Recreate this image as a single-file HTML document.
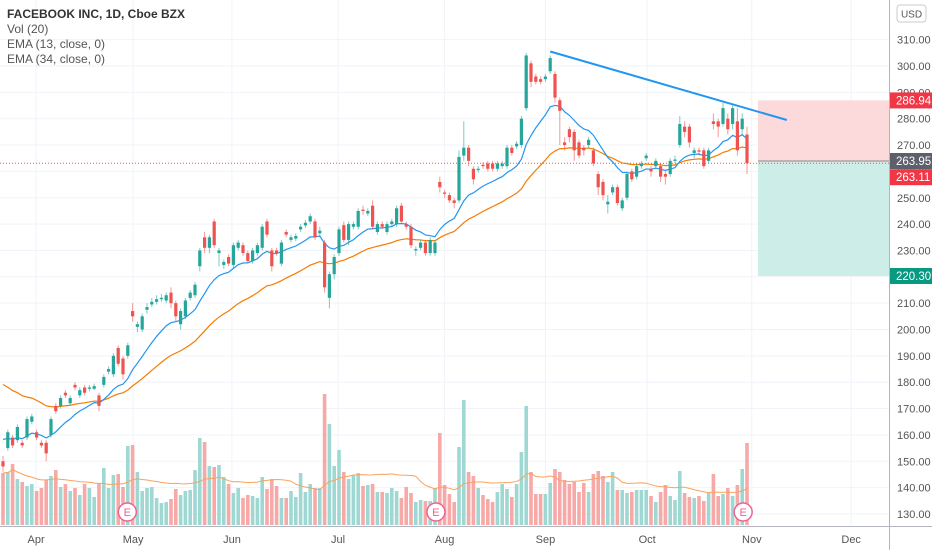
<!DOCTYPE html>
<html><head><meta charset="utf-8">
<style>
html,body{margin:0;padding:0;background:#fff;}
svg{display:block;font-family:"Liberation Sans",sans-serif;}
</style></head>
<body>
<svg id="chart" width="932" height="550" viewBox="0 0 932 550" xmlns="http://www.w3.org/2000/svg">
  <rect x="0" y="0" width="932" height="550" fill="#ffffff"/>
  <g id="grid"></g>
  <g id="boxes"></g>
  <g id="vol"></g>
  <g id="lines"></g>
  <g id="candles"></g>
  <g id="marks"></g>
  <g id="axis"></g>
  <g>
    <text x="7" y="18" font-size="12" font-weight="bold" fill="#333">FACEBOOK INC, 1D, Cboe BZX</text>
    <text x="7" y="33" font-size="12" fill="#555">Vol (20)</text>
    <text x="7" y="48" font-size="12" fill="#555">EMA (13, close, 0)</text>
    <text x="7" y="63" font-size="12" fill="#555">EMA (34, close, 0)</text>
  </g>
  <g>
    <rect x="897" y="5" width="29" height="17" rx="3" fill="#fff" stroke="#c8cbd3"/>
    <text x="911.5" y="17.5" font-size="10" fill="#555" text-anchor="middle">USD</text>
  </g>
</svg>
<script>
const opens = [150,155,159,158,157,159,165,161,157,157,
160,171,171,176,172,179,175,178,177.5,177.5,
175,179,184,183,193,189,190,207,201,200,
207.5,209.5,210.5,211.5,211,214,210,202,205,212,
213,224,235,231,241,229,224.5,227.5,224.5,231,
232,229,226,229,231,241,230,230,225,237,
234,234.5,238,239.5,241,241,236.5,233,212,221,
229,239.6,234,239,239,245.5,244,247,237,240,
237,240,240,247,240,239,230,231,233,229,
229,256,252,251,249,249,266,269,261,260.5,
262.5,263,263,261,262,262,269,269.5,270,284,
301,296,295,295,298,297,287,271,276,275,
271,269,270,268,259,256,247.5,252,254,246,
250,260,258,262,265,261,262,262,259,259,
264,270,277,277,267,268,268,264,279,279,
278,280,278,279,276,274];
const closes = [148,161,156,163,156,166,167,159,156,153,
166,169,174,175,174,178,177,176,178,178.5,
171,182,185,190,187,183,194,205,202,205,
208.5,210.5,211.5,212,213,210,205,207,211,214,
217,230,231,235,232,230,225.6,225,232,233,
229,226,230,232,239,236,224,229,233,236,
235,235.5,239,240.5,243,235,237.5,216,221,227.5,
238,234,240,240,245,245,245,239,240,239,
240,241,246,241,239,232,230.5,233,229,234,
233,254,251.5,249,248,265.5,269,264,257,261,
262,261,261,263,263,269,267,270.5,280,304,
294,294,294,296,303,288,283,270,273,268,
266,268,272,263,254,251,248.5,254,248,249,
259,257,262,263,266,260,264,258,258,264,
264.5,278,275,271,268,267.5,262,268,278,277,
284,276,284,268,280,263.11];
const highs = [152,162,160,164,158,167,168,162,158,158,
167,172,175,177,175,180,178,179,179,179.5,
176,183,186,191,194,190,195,210,203,206,
210,212,213,213.5,214,216,211,208,212,215,
218,231,237,236,242,231,226.5,228.5,233,234,
233,230,231,233,240,242,231,231,234,238,
236,236.5,240,241.5,244,242,239,234,222,228.5,
239,241,241,241,246,247,246,249,241,241,
241,242,247,248,241,240,231.5,234,234,235,
234,258,253,252,250,268,279,270,262,262,
263.5,264,264,264,264,270,270,271.5,281,305,
302,297,296,297,304,298,288,273,277,276,
272,270,273,269,260,257,251,255,255,250,
260,261,263,264,267,262,265,263,260,265,
266,281,279,278,269,269,269,269,282,280,
286,282,285,284,282,277];
const lows = [146,154,155,157,155,158,164,158,155,150,
159,168,170,174,171,177,174,175,176.5,177,
169,178,183,182,186,181,189,203,199,199,
206,208.5,209.5,210.5,210,208,203,200,204,211,
212,222,229,229,231,224,223,224,223,230,
228,225,225,228,230,235,222,228,224,235,
233,233.5,237,238.5,240,234,235,214,208,219,
228,233,232,238,238,243.5,243,238,236,238,
236,239,239,240,238,231,228,230,228,228,
228,252,250,248,246,248,264,262,255,259.5,
261,260,260,260,261,261,266,268.5,269,283,
292,293,293,294,297,286,270,268,271,264,
265,266,269,262,251,249,244,251,247,245,
249,256,257,261,264,258,261,256,255,258,
263,269,273,269,265,266,261,263,276,273,
277,274,276,266,274,259];
const volumes = [52,53,61,46,43,39,41,34,37,45,
49,55,38,41,34,37,30,41,37,28,
42,57,37,50,51,38,79,80,53,34,
37,38,27,22,23,26,36,30,34,35,
55,87,83,59,58,60,48,41,32,37,
27,30,29,27,48,36,46,39,27,27,
34,28,52,33,41,37,37,131,101,59,
75,53,46,50,52,39,40,41,
33,33,32,37,34,27,38,32,23,25,
24,24,37,92,40,31,23,78,125,53,
49,37,30,26,23,33,41,36,28,41,
73,119,53,31,31,31,42,56,53,45,
41,43,33,42,33,51,54,49,43,53,
35,35,32,33,35,35,35,29,23,33,
40,29,25,54,32,28,27,29,24,32,
51,29,31,37,29,40,56,82];
const priceTicks = [130,140,150,160,170,180,190,200,210,220,230,240,250,260,270,280,290,300,310];
const monthLabels = ["Apr","May","Jun","Jul","Aug","Sep","Oct","Nov","Dec"];
const monthIndex = [6.9,27.1,47.7,69.8,92,113,134.2,156,176.7];
const earningsIndex = [25.9,90.2,154.2];
const trendStart = [114,305.5];
const trendEnd = [163.3,279.5];
const stopPrice = 286.94, entryPrice = 263.95, targetPrice = 220.30, lastPrice = 263.11;
const boxStartIndex = 157.3;
const ema13Seed = 160, ema34Seed = 181;

const NS="http://www.w3.org/2000/svg";
const plotRight=889, volBase=525;
function xOf(i){return 3+i*4.8;}
function yOf(p){return 66+(300-p)*2.635;}
function yVol(v){return volBase-v*1.0;}
function mk(tag,attrs,parent){const e=document.createElementNS(NS,tag);for(const k in attrs)e.setAttribute(k,attrs[k]);parent.appendChild(e);return e;}

const grid=document.getElementById('grid');
priceTicks.forEach(t=>{
  const l=mk('line',{x1:0,x2:plotRight,y1:yOf(t),y2:yOf(t),stroke:'#f0f3fa','stroke-width':1},grid);
  
  
});
monthIndex.forEach(m=>{
  const l=mk('line',{x1:xOf(m),x2:xOf(m),y1:0,y2:volBase,stroke:'#f0f3fa','stroke-width':1},grid);
  
  
});

// position boxes
const boxes=document.getElementById('boxes');
const bx=xOf(boxStartIndex);
const rb=mk('rect',{x:bx,y:yOf(stopPrice),width:plotRight-bx,height:yOf(entryPrice)-yOf(stopPrice),fill:'#fcd9db'},boxes);


const gb=mk('rect',{x:bx,y:yOf(entryPrice),width:plotRight-bx,height:yOf(targetPrice)-yOf(entryPrice),fill:'#cdeee8'},boxes);


const el=mk('line',{x1:bx,x2:plotRight,y1:yOf(entryPrice),y2:yOf(entryPrice),stroke:'#888','stroke-width':1},boxes);


const pl=mk('line',{x1:0,x2:plotRight,y1:yOf(lastPrice),y2:yOf(lastPrice),stroke:'#ef5350','stroke-width':1,'stroke-dasharray':'1,2'},boxes);



// volume
const vol=document.getElementById('vol');
volumes.forEach((v,i)=>{
  const up=closes[i]>=opens[i];
  const r=mk('rect',{x:xOf(i)-1.8,y:yVol(v),width:3.6,height:v*1.0,fill:up?'#9fd8d2':'#f6a9a7'},vol);
  
  
});
// volume MA 20
let vpts=[];
for(let i=0;i<volumes.length;i++){let s=0,n=0;for(let j=Math.max(0,i-19);j<=i;j++){s+=volumes[j];n++;}vpts.push(xOf(i)+','+yVol(s/n));}
const lines=document.getElementById('lines');
const vma=mk('polyline',{points:vpts.join(' '),fill:'none',stroke:'#f7a35c','stroke-width':1},lines);



// EMAs
function ema(period,seed){let a=2/(period+1),e=seed,out=[];closes.forEach(c=>{e=e+a*(c-e);out.push(e);});return out;}
const e34=ema(34,ema34Seed), e13=ema(13,ema13Seed);
const l34=mk('polyline',{points:e34.map((v,i)=>xOf(i)+','+yOf(v)).join(' '),fill:'none',stroke:'#f57c00','stroke-width':1.2},lines);


const l13=mk('polyline',{points:e13.map((v,i)=>xOf(i)+','+yOf(v)).join(' '),fill:'none',stroke:'#2196f3','stroke-width':1.2},lines);



// candles
const cg=document.getElementById('candles');
opens.forEach((o,i)=>{
  const c=closes[i],up=c>=o,col=up?'#26a69a':'#ef5350',x=xOf(i);
  const w=mk('line',{x1:x,x2:x,y1:yOf(highs[i]),y2:yOf(lows[i]),stroke:col,'stroke-width':1,opacity:0.6},cg);
  
  
  const top=yOf(Math.max(o,c)),h=Math.max(1.2,Math.abs(yOf(o)-yOf(c)));
  const b=mk('rect',{x:x-1.6,y:top,width:3.2,height:h,fill:col},cg);
  
  
});

// trend line
const tl=mk('line',{x1:xOf(trendStart[0]),y1:yOf(trendStart[1]),x2:xOf(trendEnd[0]),y2:yOf(trendEnd[1]),stroke:'#2196f3','stroke-width':2},lines);



// earnings markers
const mg=document.getElementById('marks');
earningsIndex.forEach(ei=>{
  const c=mk('circle',{cx:xOf(ei),cy:512,r:9,fill:'#fff',stroke:'#f06292','stroke-width':1.5},mg);
  
  
  const t=mk('text',{x:xOf(ei),y:516,'font-size':11,fill:'#f06292','text-anchor':'middle'},mg);
  t.textContent='E';
  
  
});

// axes
const ax=document.getElementById('axis');
const al=mk('line',{x1:plotRight+0.5,x2:plotRight+0.5,y1:0,y2:550,stroke:'#b2b5be','stroke-width':1},ax);


const bl=mk('line',{x1:0,x2:932,y1:volBase+1.5,y2:volBase+1.5,stroke:'#b2b5be','stroke-width':1},ax);


priceTicks.forEach(t=>{
  const tx=mk('text',{x:897,y:yOf(t)+4,'font-size':11,fill:'#555'},ax);
  tx.textContent=t.toFixed(2);
  
  
});
monthLabels.forEach((m,i)=>{
  const tx=mk('text',{x:xOf(monthIndex[i]),y:543,'font-size':11,fill:'#555','text-anchor':'middle'},ax);
  tx.textContent=m;
  
  
});
function tag(price,yc,bg,name){
  const r=mk('rect',{x:plotRight+1,y:yc-8,width:932-plotRight-1,height:16,fill:bg},ax);
  
  
  const t=mk('text',{x:896,y:yc+4,'font-size':11.5,fill:'#fff'},ax);
  t.textContent=price.toFixed(2);
  
  
}
tag(stopPrice,yOf(stopPrice),'#f23645','stop-price');
tag(entryPrice,yOf(entryPrice),'#5d606b','entry-price');
tag(lastPrice,yOf(lastPrice)+14,'#f23645','last-price');
tag(targetPrice,yOf(targetPrice),'#089981','target-price');
</script>
</body></html>
